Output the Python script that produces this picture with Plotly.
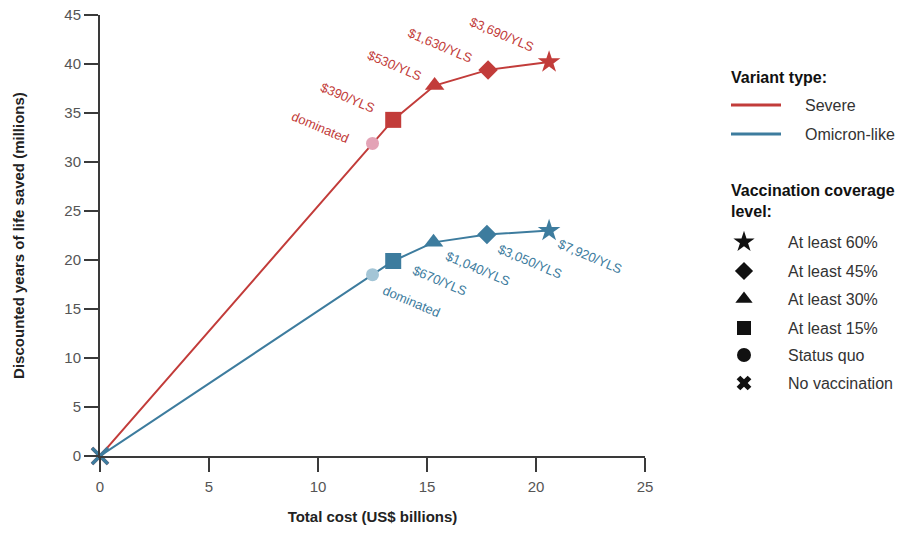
import plotly.graph_objects as go

# ---------------- data ----------------
coverage_levels = ["No vaccination", "Status quo", "At least 15%", "At least 30%",
                   "At least 45%", "At least 60%"]
cost_severe = [0, 12.5, 13.45, 15.35, 17.8, 20.6]
yls_severe = [0, 31.9, 34.3, 37.8, 39.4, 40.2]
cost_omicron = [0, 12.5, 13.45, 15.3, 17.75, 20.6]
yls_omicron = [0, 18.5, 19.9, 21.8, 22.6, 23.0]
icer_severe = ["", "dominated", "$390/YLS", "$530/YLS", "$1,630/YLS", "$3,690/YLS"]
icer_omicron = ["", "dominated", "$670/YLS", "$1,040/YLS", "$3,050/YLS", "$7,920/YLS"]
x_ticks = [0, 5, 10, 15, 20, 25]
y_ticks = [0, 5, 10, 15, 20, 25, 30, 35, 40, 45]

# ---------------- style ----------------
RED = "#c23c3a"
RED_LIGHT = "#e3a3b6"
BLUE = "#3d7c9e"
BLUE_LIGHT = "#a3c5d6"
AXIS = "#3a3a3a"
TXT = "#333333"
FONT = "Liberation Sans, Arial, sans-serif"

symbols = ["x-thin", "circle", "square", "triangle-up", "diamond", "star"]
sizes = [16, 13, 16, 17, 15, 17]
legend_symbols = ["star", "diamond", "triangle-up", "square", "circle", "x"]
legend_sizes = [16, 14, 15, 14, 14, 13]

# label pixel offsets (centre of rotated text relative to point)
off_severe = [(0, 0), (-52, 16), (-46, 22), (-40, 20), (-48, 24), (-47, 28)]
off_omicron = [(0, 0), (39, -27), (46, -20), (44, -26), (43, -27), (41, -26)]

W, H = 913, 534
ML, MR, MT, MB = 100, 0, 15, 78
plot_w = W - ML - MR
main_right_px = 645
x_dom_end = (main_right_px - ML) / plot_w

fig = go.Figure()

def add_series(name, xs, ys, color, light):
    colors = [color] * len(xs)
    colors[1] = light
    fig.add_trace(go.Scatter(
        x=xs, y=ys, mode="lines+markers", name=name,
        line=dict(color=color, width=2),
        marker=dict(symbol=symbols, size=sizes, color=colors, opacity=1,
                    line=dict(width=[3.5, 0, 0, 0, 0, 0], color=color)),
        text=coverage_levels, cliponaxis=False, showlegend=False,
        hovertemplate="%{text}<br>Cost %{x}<br>YLS %{y}<extra>" + name + "</extra>",
    ))

add_series("Severe", cost_severe, yls_severe, RED, RED_LIGHT)
add_series("Omicron-like", cost_omicron, yls_omicron, BLUE, BLUE_LIGHT)

annotations = []
for xs, ys, labels, offs, col in [
    (cost_severe, yls_severe, icer_severe, off_severe, RED),
    (cost_omicron, yls_omicron, icer_omicron, off_omicron, BLUE),
]:
    for xv, yv, lab, (dx, dy) in zip(xs, ys, labels, offs):
        if not lab:
            continue
        annotations.append(dict(
            x=xv, y=yv, xref="x", yref="y", text=lab, showarrow=False,
            xshift=dx, yshift=dy, textangle=23,
            font=dict(family=FONT, size=13, color=col),
        ))

# ---------------- custom legend (pixel coords on overlay axes) ----------------
leg_title_x = 729
leg_line_x0, leg_line_x1 = 731, 781
leg_text_x = 803
sym_x = 744
sym_text_x = 786
line_rows = [105, 134]
sym_rows = [242, 271, 299, 328, 355, 383]

annotations.append(dict(x=leg_title_x, y=77, xref="x2", yref="y2", xanchor="left",
                        text="<b>Variant type:</b>", showarrow=False,
                        font=dict(family=FONT, size=16, color="#111")))
shapes = []
for yy, col, lab in zip(line_rows, [RED, BLUE], ["Severe", "Omicron-like"]):
    shapes.append(dict(type="line", xref="x2", yref="y2", x0=leg_line_x0, x1=leg_line_x1,
                       y0=yy, y1=yy, line=dict(color=col, width=3)))
    annotations.append(dict(x=leg_text_x, y=yy, xref="x2", yref="y2", xanchor="left",
                            text=lab, showarrow=False,
                            font=dict(family=FONT, size=16, color=TXT)))
annotations.append(dict(x=leg_title_x, y=201, xref="x2", yref="y2", xanchor="left",
                        align="left", text="<b>Vaccination coverage<br>level:</b>",
                        showarrow=False,
                        font=dict(family=FONT, size=16, color="#111")))
legend_labels = coverage_levels[::-1]
for yy, lab in zip(sym_rows, legend_labels):
    annotations.append(dict(x=sym_text_x, y=yy, xref="x2", yref="y2", xanchor="left",
                            text=lab, showarrow=False,
                            font=dict(family=FONT, size=16, color=TXT)))

fig.add_trace(go.Scatter(
    x=[sym_x] * len(sym_rows), y=sym_rows, xaxis="x2", yaxis="y2",
    mode="markers", showlegend=False, hoverinfo="skip", cliponaxis=False,
    marker=dict(symbol=legend_symbols, size=legend_sizes, color="#111",
                line=dict(width=0), opacity=1),
))

axis_common = dict(
    showline=True, linecolor=AXIS, linewidth=2, ticks="outside", ticklen=14,
    tickwidth=2, tickcolor=AXIS, showgrid=False, zeroline=False,
    tickfont=dict(family=FONT, size=15, color="#555"),
)

fig.update_layout(
    width=W, height=H,
    margin=dict(l=ML, r=MR, t=MT, b=MB, autoexpand=False),
    paper_bgcolor="white", plot_bgcolor="rgba(0,0,0,0)",
    showlegend=False,
    xaxis=dict(domain=[0, x_dom_end], range=[0, 25], tickvals=x_ticks,
               ticklabelstandoff=2,
               title=dict(text="<b>Total cost (US$ billions)</b>", standoff=17,
                          font=dict(family=FONT, size=15, color="#222")),
               **axis_common),
    yaxis=dict(range=[0, 45], tickvals=y_ticks,
               title=dict(text="<b>Discounted years of life saved (millions)</b>",
                          standoff=36,
                          font=dict(family=FONT, size=15, color="#222")),
               **axis_common),
    xaxis2=dict(domain=[0, 1], range=[ML, W - MR], anchor="y2", visible=False,
                fixedrange=True),
    yaxis2=dict(domain=[0, 1], range=[H - MB, MT], anchor="x2", visible=False,
                fixedrange=True),
    annotations=annotations,
    shapes=shapes,
)

fig.write_html("out.html")
